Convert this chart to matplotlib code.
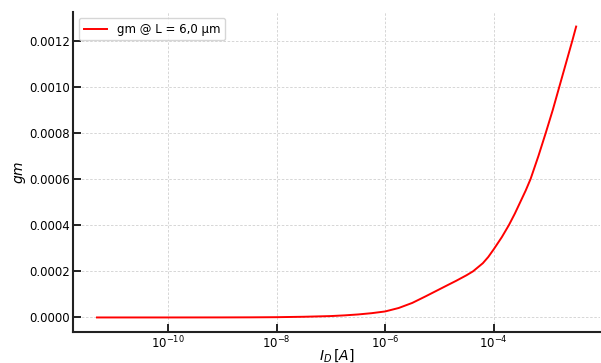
import numpy as np
import matplotlib
matplotlib.use("Agg")
import matplotlib.pyplot as plt
from matplotlib.ticker import FixedLocator, NullLocator

# Drain current (A) and transconductance gm (S)
id_log10 = [-11.31, -10.0, -9.0, -8.5, -8.0, -7.5, -7.0, -6.75, -6.5, -6.25, -6.0, -5.75,
            -5.5, -5.25, -5.0, -4.85, -4.69, -4.5, -4.38, -4.2, -4.1, -4.0, -3.85,
            -3.72, -3.61, -3.51, -3.41, -3.32, -3.175, -3.04, -2.91, -2.79, -2.67, -2.55, -2.48]
gm_values = [0.0, 0.0, 0.2e-6, 0.5e-6, 1.2e-6, 3.0e-6, 6.0e-6, 9.0e-6, 1.3e-5, 1.85e-5, 2.6e-5, 4.1e-5,
             6.3e-5, 9.2e-5, 1.22e-4, 1.40e-4, 1.59e-4, 1.83e-4, 2.00e-4, 2.35e-4, 2.62e-4, 2.95e-4, 3.48e-4,
             4.00e-4, 4.50e-4, 5.00e-4, 5.50e-4, 6.00e-4, 7.00e-4, 8.00e-4, 9.00e-4, 1.00e-3, 1.10e-3, 1.20e-3, 1.261e-3]
id_values = [10.0 ** v for v in id_log10]
x_ticks = [1e-10, 1e-8, 1e-6, 1e-4]
series_label = "gm @ L = 6,0 µm"

fig = plt.figure(figsize=(6.01, 3.63), dpi=100)
ax = fig.add_axes([0.1215, 0.0854, 0.8770, 0.8815])
ax.plot(id_values, gm_values, color="red", lw=1.4, label=series_label)
ax.set_xscale("log")
ax.xaxis.set_major_locator(FixedLocator(x_ticks))
ax.xaxis.set_minor_locator(NullLocator())
ax.grid(True, color="#d0d0d0", linestyle=(0, (3, 2)), linewidth=0.6)
for s in ["top", "right"]:
    ax.spines[s].set_visible(False)
for s in ["left", "bottom"]:
    ax.spines[s].set_linewidth(1.5)
    ax.spines[s].set_color("#222222")
ax.tick_params(axis="both", which="major", direction="in", length=6, width=1.4,
               labelsize=8.5, color="#222222", pad=2)
ax.set_xlabel(r"$I_D\,[A]$", fontsize=10, labelpad=-3)
ax.set_ylabel(r"$gm$", fontsize=10, labelpad=1)
ax.legend(loc="upper left", fontsize=8.5, handlelength=2.0)
fig.savefig("out.png", dpi=100)
